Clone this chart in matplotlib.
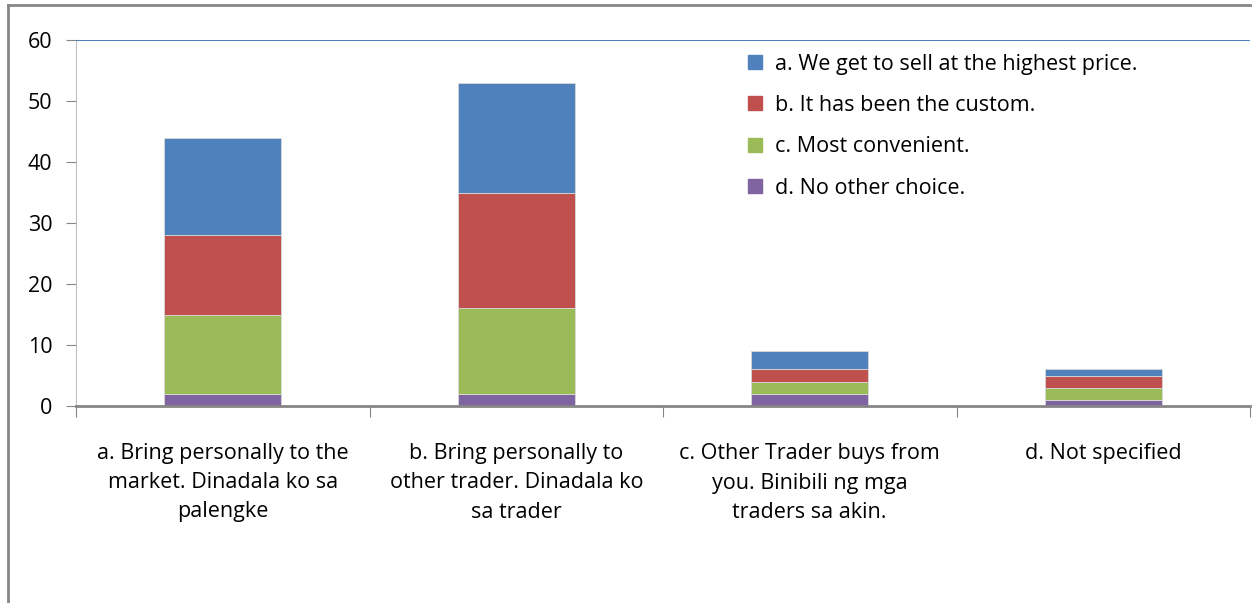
import matplotlib
matplotlib.use('Agg')

import matplotlib.pyplot as plt
from matplotlib.lines import Line2D
import numpy as np

categories = ['a. Bring personally to the\nmarket. Dinadala ko sa\npalengke',
              'b. Bring personally to\nother trader. Dinadala ko\nsa trader',
              'c. Other Trader buys from\nyou. Binibili ng mga\ntraders sa akin.',
              'd. Not specified']
series_names = ['a. We get to sell at the highest price.',
                'b. It has been the custom.',
                'c. Most convenient.',
                'd. No other choice.']
highest_price = [16, 18, 3, 1]
custom = [13, 19, 2, 2]
convenient = [13, 14, 2, 2]
no_choice = [2, 2, 2, 1]

colors = ['#4F81BD', '#C0504D', '#9BBB59', '#8064A2']

plt.rcParams['font.family'] = ['Open Sans', 'DejaVu Sans']
fs = 15.5

fig = plt.figure(figsize=(12.52, 6.03), dpi=100)
ax = fig.add_axes([76 / 1252, 1 - 406 / 603, (1250 - 76) / 1252, 366 / 603])

x = np.arange(len(categories))
stack = [no_choice, convenient, custom, highest_price]
stack_colors = colors[::-1]
bottom = np.zeros(len(categories))
for vals, col in zip(stack, stack_colors):
    ax.bar(x, vals, 0.4, bottom=bottom, color=col, edgecolor='#d9d9d9', linewidth=0.6)
    bottom += np.array(vals)

ax.set_xlim(-0.5, 3.5)
ax.set_ylim(0, 60)
ax.set_yticks(range(0, 61, 10))
ax.set_xticks(np.arange(-0.5, 4.0, 1.0))
ax.set_xticklabels([])
ax.set_xticks(x, minor=True)
ax.set_xticklabels(categories, minor=True, fontsize=fs, linespacing=1.5)
ax.tick_params(axis='x', which='minor', length=0, pad=27)
ax.tick_params(axis='x', which='major', length=8, color='#868686', direction='out')
ax.tick_params(axis='y', length=7, color='#868686', labelsize=fs, pad=10)

ax.axhline(60, color='#4F81BD', linewidth=1.5, zorder=5)
for side in ['top', 'right']:
    ax.spines[side].set_visible(False)
ax.spines['left'].set_color('#bfbfbf')
ax.spines['bottom'].set_color('#868686')
ax.spines['bottom'].set_linewidth(2)

handles = [Line2D([], [], marker='s', linestyle='none', markersize=10,
                  markerfacecolor=c, markeredgecolor=c) for c in colors]
ax.legend(handles, series_names, loc='upper left', bbox_to_anchor=(0.553, 1.016),
          frameon=False, fontsize=fs, labelspacing=0.95, handletextpad=0.4,
          handlelength=1.0)

# outer chart frame
fig.add_artist(Line2D([8 / 1252, 8 / 1252], [0, 1 - 5 / 603], color='#868686', linewidth=2))
fig.add_artist(Line2D([8 / 1252, 1], [1 - 5 / 603, 1 - 5 / 603], color='#868686', linewidth=2))

plt.savefig('out.png', dpi=100)
plt.close(fig)
